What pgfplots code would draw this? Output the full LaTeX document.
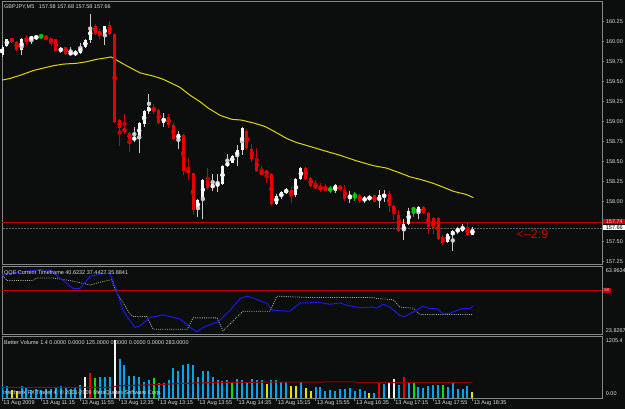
\documentclass[border=0pt]{standalone}
\usepackage{fontspec}
\setmainfont{Liberation Sans}
\usepackage{pgfplots}
\pgfplotsset{compat=1.18}
\usepackage{pgfplotstable}

\definecolor{bg}{RGB}{12,14,14}
\definecolor{frm}{RGB}{130,136,136}
\definecolor{txt}{RGB}{220,220,220}
\definecolor{upW}{RGB}{250,250,250}
\definecolor{upWick}{RGB}{205,205,205}
\definecolor{dnR}{RGB}{235,0,0}
\definecolor{dnWick}{RGB}{200,0,0}
\definecolor{dojiG}{RGB}{0,200,0}
\definecolor{maY}{RGB}{225,215,0}
\definecolor{qqeB}{RGB}{25,25,235}
\definecolor{qqeG}{RGB}{170,170,170}
\definecolor{lvlR}{RGB}{195,0,0}
\definecolor{bidG}{RGB}{90,104,108}
\definecolor{volB}{RGB}{0,165,235}
\definecolor{volY}{RGB}{230,225,0}
\definecolor{volG}{RGB}{0,230,0}
\definecolor{volR}{RGB}{240,0,0}
\definecolor{volW}{RGB}{245,245,245}
\definecolor{volMA}{RGB}{150,0,0}

\newcommand{\sm}{\fontsize{5.5}{6}\selectfont}

% ---------- candles ----------
\pgfplotstableread{
i o h l c
0 159.83 159.96 159.81 159.94
1 159.95 160.04 159.94 160.03
4 159.90 160.05 159.83 160.04
6 160.03 160.07 159.97 160.06
7 160.04 160.09 160.02 160.07
12 159.88 159.94 159.86 159.92
14 159.84 159.93 159.83 159.87
15 159.84 159.90 159.82 159.87
16 159.86 159.99 159.85 159.93
17 159.93 160.03 159.92 160.02
18 160.02 160.35 159.98 160.19
21 160.07 160.20 159.96 160.20
27 158.78 158.94 158.75 158.80
28 158.79 159.00 158.61 158.99
29 158.97 159.15 158.94 159.13
30 159.13 159.35 159.10 159.18
33 158.99 159.11 158.94 159.05
36 158.78 158.89 158.66 158.85
40 157.91 158.03 157.81 158.02
41 158.03 158.29 157.78 158.27
43 158.17 158.35 158.14 158.22
44 158.20 158.35 158.12 158.23
45 158.22 158.46 158.21 158.45
46 158.45 158.60 158.43 158.49
47 158.49 158.58 158.48 158.57
48 158.56 158.71 158.45 158.65
49 158.65 158.93 158.58 158.92
56 157.97 158.10 157.96 158.07
57 158.06 158.13 158.04 158.12
58 158.11 158.17 158.10 158.15
60 158.08 158.30 158.06 158.28
61 158.28 158.43 158.27 158.42
68 158.14 158.22 158.11 158.21
71 158.04 158.13 157.98 158.09
74 158.01 158.07 157.99 158.05
75 158.03 158.08 158.01 158.07
77 158.01 158.15 157.92 158.08
78 158.07 158.15 158.00 158.08
82 157.63 157.79 157.52 157.72
83 157.72 157.92 157.71 157.89
85 157.86 157.95 157.79 157.93
91 157.50 157.61 157.49 157.60
92 157.58 157.65 157.38 157.63
93 157.63 157.68 157.60 157.66
94 157.64 157.72 157.62 157.69
96 157.58 157.68 157.58 157.66
}\upc

\pgfplotstableread{
i o h l c
2 160.04 160.05 159.99 160.00
3 160.00 160.01 159.89 159.90
5 160.04 160.08 159.96 160.02
9 160.06 160.09 160.02 160.03
10 160.03 160.04 159.95 160.01
11 160.03 160.04 159.87 159.89
13 159.93 159.94 159.84 159.85
19 160.20 160.22 160.08 160.10
20 160.13 160.16 160.04 160.07
22 160.21 160.26 160.08 160.10
23 160.10 160.10 158.98 159.00
24 159.02 159.03 158.70 158.92
25 158.92 159.10 158.85 158.87
26 158.86 158.87 158.62 158.78
31 159.17 159.22 159.10 159.13
32 159.15 159.16 158.97 158.98
34 159.06 159.10 158.92 158.96
35 158.96 158.98 158.77 158.79
37 158.84 158.85 158.33 158.38
38 158.40 158.55 158.27 158.36
39 158.36 158.36 157.85 157.90
42 158.26 158.42 158.15 158.17
50 158.89 158.91 158.65 158.67
51 158.66 158.72 158.50 158.53
52 158.55 158.67 158.37 158.38
53 158.38 158.45 158.33 158.34
54 158.38 158.40 158.24 158.35
55 158.35 158.36 157.95 157.97
59 158.15 158.18 157.99 158.07
62 158.42 158.43 158.27 158.28
63 158.30 158.31 158.19 158.20
64 158.21 158.27 158.16 158.17
65 158.18 158.24 158.12 158.15
66 158.18 158.22 158.13 158.14
69 158.20 158.21 158.14 158.15
70 158.15 158.21 158.01 158.03
73 158.09 158.10 157.99 158.01
76 158.08 158.09 157.99 158.00
79 158.10 158.13 157.87 157.94
80 157.95 157.96 157.77 157.85
81 157.83 157.90 157.62 157.63
86 157.93 157.95 157.84 157.86
87 157.86 157.87 157.60 157.68
88 157.80 157.81 157.60 157.67
89 157.80 157.81 157.52 157.54
90 157.56 157.58 157.46 157.48
95 157.68 157.75 157.57 157.58
}\dnc

\pgfplotstableread{
i o h l c
8 160.07 160.10 160.03 160.07
67 158.15 158.20 158.11 158.15
72 158.08 158.12 158.01 158.08
84 157.91 157.94 157.81 157.91
}\doji

% ---------- volume ----------
\pgfplotstableread{
i v
0 237
1 224
4 224
5 204
6 158
7 171
8 158
9 171
10 184
11 204
12 237
13 204
14 184
15 204
16 250
20 402
21 402
22 402
24 751
25 632
26 435
27 435
28 402
29 316
30 349
32 283
33 283
34 349
35 575
36 534
37 645
38 652
39 632
40 415
41 534
42 534
43 402
44 356
45 336
46 349
48 369
49 349
50 316
51 369
52 356
53 349
55 356
56 356
57 303
58 303
61 303
64 205
65 217
66 138
67 151
68 138
69 171
70 171
71 204
72 138
73 171
74 138
76 105
78 270
81 250
83 303
85 217
86 191
87 237
88 257
89 257
91 217
92 303
93 171
94 171
95 237
}\volblue

\pgfplotstableread{
i v
2 152
3 138
54 270
59 237
60 237
62 204
63 138
75 92
96 125
}\volyellow

\pgfplotstableread{
i v
19 382
31 382
47 303
84 283
90 257
}\volgreen

\pgfplotstableread{
i v
18 487
77 283
82 415
}\volred

\pgfplotstableread{
i v
17 402
23 1126
79 283
80 369
}\volwhite

\pgfplotsset{
  mt/.style={
    scale only axis, width=600pt, xmin=0, xmax=122.45,
    anchor=south west,
    axis line style={frm, line width=0.8pt},
    xtick=\empty, ytick=\empty,
    clip=true,
  },
  wick/.style={only marks, mark=none, color=#1,
    error bars/.cd, y dir=both, y explicit, error mark=none,
    error bar style={line width=1pt, color=#1}},
  body/.style={only marks, mark=none, color=#1,
    error bars/.cd, y dir=both, y explicit, error mark=none,
    error bar style={line width=3pt, color=#1}},
}

\begin{document}
\begin{tikzpicture}
\path[use as bounding box] (0pt,0pt) rectangle (625pt,409pt);
\fill[bg] (0pt,0pt) rectangle (625pt,409pt);

% ================= main price panel =================
\begin{axis}[mt, at={(2pt,144.5pt)}, height=263.5pt,
  ymin=157.215, ymax=160.509,
  ytick={157.25,157.5,157.75,158,158.25,158.5,158.75,159,159.25,159.5,159.75,160,160.25},
  yticklabels={157.25,157.50,157.75,158.00,158.25,158.50,158.75,159.00,159.25,159.50,159.75,160.00,160.25},
  ytick pos=right, yticklabel pos=right, tick align=outside,
  major tick length=2pt, tick style={frm, line width=0.6pt},
  yticklabel style={font=\sm, text=txt, inner sep=0pt, xshift=1.8pt},
]
% level lines
\addplot[lvlR, line width=0.9pt] coordinates {(-1,157.74) (124,157.74)};
\addplot[bidG, line width=0.8pt, dash pattern=on 2pt off 1pt] coordinates {(-1,157.667) (124,157.667)};
% moving average
\addplot[maY, line width=1pt] coordinates {
(0,159.52)(1.6,159.54)(3.7,159.58)(6.4,159.64)(8.4,159.67)(10.5,159.70)(12.5,159.72)
(15.2,159.73)(17.3,159.75)(19.3,159.78)(21.4,159.80)(22.2,159.81)(23.1,159.78)(25.4,159.70)
(28.2,159.61)(30.9,159.57)(32.9,159.53)(35.3,159.46)(36.3,159.43)(38.4,159.33)(40.4,159.25)
(42.1,159.17)(44.5,159.08)(46.9,159.03)(48.9,159.02)(51.6,158.98)(53.7,158.94)(56.7,158.84)
(58.1,158.79)(60.1,158.74)(62.9,158.69)(65.6,158.64)(69,158.58)(72.4,158.51)(75.8,158.45)
(78.5,158.42)(81.2,158.36)(83.3,158.31)(85.3,158.28)(88,158.23)(90.1,158.18)(92.1,158.13)
(94.8,158.09)(96.2,158.05)};
% wicks
\addplot[wick=upWick] table[x=i, y expr={(\thisrow{h}+\thisrow{l})/2}, y error expr={(\thisrow{h}-\thisrow{l})/2}] {\upc};
\addplot[wick=dnWick] table[x=i, y expr={(\thisrow{h}+\thisrow{l})/2}, y error expr={(\thisrow{h}-\thisrow{l})/2}] {\dnc};
\addplot[wick=dojiG] table[x=i, y expr={(\thisrow{h}+\thisrow{l})/2}, y error expr={(\thisrow{h}-\thisrow{l})/2}] {\doji};
% bodies
\addplot[body=upW] table[x=i, y expr={(\thisrow{o}+\thisrow{c})/2}, y error expr={max(abs(\thisrow{c}-\thisrow{o})/2,0.006)}] {\upc};
\addplot[body=dnR] table[x=i, y expr={(\thisrow{o}+\thisrow{c})/2}, y error expr={max(abs(\thisrow{c}-\thisrow{o})/2,0.006)}] {\dnc};
\addplot[body=dojiG] table[x=i, y expr={(\thisrow{o}+\thisrow{c})/2}, y error expr={0.006}] {\doji};
\end{axis}

% ================= QQE panel =================
\begin{axis}[mt, at={(2pt,75pt)}, height=67.5pt, ymin=23.8267, ymax=63.9634]
\addplot[lvlR, line width=0.9pt] coordinates {(-1,50) (124,50)};
\addplot[qqeG, line width=0.8pt, dash pattern=on 1pt off 1.2pt] coordinates {
(0.2,58.5)(1,55.6)(6.3,55.6)(7.1,57.1)(10.4,57.1)(13.9,55.6)(18,53.0)(20.6,55.0)(22.4,56.1)
(23.1,50.0)(26.1,35.8)(26.7,34.2)(29.6,34.2)(30.8,26.7)(37.8,26.7)(39,33.4)(43.9,33.4)
(45.1,25.7)(49.2,37.4)(54.7,37.4)(56.1,46.3)(62.9,45.5)(75.7,45.5)(76.5,44.9)(79.8,44.3)
(81.2,39.8)(83.9,39.2)(85.3,35.4)(96.1,35.4)};
\addplot[qqeB, line width=1pt] coordinates {
(0,58.7)(3,60.5)(7.8,62.1)(9.8,61.7)(11.8,57.1)(14.5,51.0)(15.9,51.0)(18,58.1)(20,59.5)
(22,60.1)(23.1,52.0)(24.7,37.8)(27.1,27.7)(28.2,28.7)(30.2,33.7)(32.9,35.2)(34.9,33.7)
(36.3,32.8)(38.4,27.7)(39.8,25.1)(41,27.7)(44.1,31.1)(46.5,37.8)(48.6,44.9)(50,46.3)
(51.2,45.3)(54.1,41.9)(55.3,37.8)(58.8,37.4)(60.8,42.3)(64.9,42.5)(66.9,41.5)(69,42.3)
(70.4,40.9)(73.1,39.5)(75.7,39.8)(76.5,39.2)(77.8,41.5)(79.2,39.8)(81.2,34.8)(82.2,34.2)
(83.9,36.8)(85.9,40.4)(87.3,38.9)(88.8,38.9)(90,35.8)(91.4,36.2)(93.9,38.9)(95.5,38.9)
(96.1,40.3)};
\end{axis}

% ================= volume panel =================
\begin{axis}[mt, at={(2pt,11pt)}, height=62pt, ymin=0, ymax=1205.4,
  xtick={0,8,...,96},
  xticklabels={13 Aug 2009,13 Aug 11:15,13 Aug 11:55,13 Aug 12:35,13 Aug 13:15,13 Aug 13:55,13 Aug 14:35,13 Aug 15:15,13 Aug 15:55,13 Aug 16:35,13 Aug 17:15,13 Aug 17:55,13 Aug 18:35},
  xtick pos=bottom, tick align=outside, major tick length=3pt,
  tick style={frm, line width=0.6pt},
  xticklabel style={font=\sm, text=txt, anchor=north west, inner sep=0pt, xshift=1.2pt, yshift=1pt},
]
\addplot[ycomb, volB, line width=2pt] table[x=i, y=v] {\volblue};
\addplot[ycomb, volY, line width=2pt] table[x=i, y=v] {\volyellow};
\addplot[ycomb, volG, line width=2pt] table[x=i, y=v] {\volgreen};
\addplot[ycomb, volR, line width=2pt] table[x=i, y=v] {\volred};
\addplot[ycomb, volW, line width=2pt] table[x=i, y=v] {\volwhite};
\addplot[volMA, line width=1pt] coordinates {
(0,205)(22,205)(24,240)(30,255)(40,295)(50,305)(60,310)(72,312)(73,298)(96,298)};
\end{axis}

% ================= texts =================
\node[anchor=west, inner sep=0pt, text=txt, font=\sm] at (4pt,402.3pt) {GBPJPY,M5\ \ \ 157.58 157.68 157.58 157.66};
\node[anchor=west, inner sep=0pt, text=txt, font=\sm] at (4pt,136.3pt) {QQE Current Timeframe 40.6232 37.4427 35.8841};
\node[anchor=west, inner sep=0pt, text=txt, font=\sm] at (4pt,66.3pt) {Better Volume 1.4 0.0000 0.0000 125.0000 0.0000 0.0000 0.0000 283.0000};
\node[anchor=west, inner sep=0pt, text=txt, font=\sm] at (3pt,15.7pt) {Interbank FX Trader 4, © 2001-2009 MetaQuotes Software Corp.};
\node[anchor=west, inner sep=0pt, text=dnWick, font=\fontsize{12.5}{13}\selectfont] at (516.5pt,174.7pt) {<--2:9};

% right scale boxes / labels
\fill[dnR!85!black] (603pt,184.8pt) rectangle (625pt,190.2pt);
\node[anchor=west, inner sep=0pt, text=txt, font=\sm] at (605.7pt,187.5pt) {157.74};
\fill[white] (603pt,178.8pt) rectangle (625pt,184.2pt);
\node[anchor=west, inner sep=0pt, text=black, font=\sm] at (605.7pt,181.5pt) {157.66};
\node[anchor=west, inner sep=0pt, text=txt, font=\sm] at (605.7pt,138.3pt) {63.9634};
\node[anchor=west, inner sep=0pt, text=txt, font=\sm] at (605.7pt,78.3pt) {23.8267};
\fill[dnR!85!black] (603.3pt,116.3pt) rectangle (610.5pt,120.9pt);
\node[inner sep=0pt, text=txt, font=\fontsize{4.5}{5}\selectfont] at (606.9pt,118.6pt) {50};
\node[anchor=west, inner sep=0pt, text=txt, font=\sm] at (605.7pt,68.3pt) {1205.4};
\node[anchor=west, inner sep=0pt, text=txt, font=\sm] at (605.7pt,15pt) {0.00};
\end{tikzpicture}
\end{document}
